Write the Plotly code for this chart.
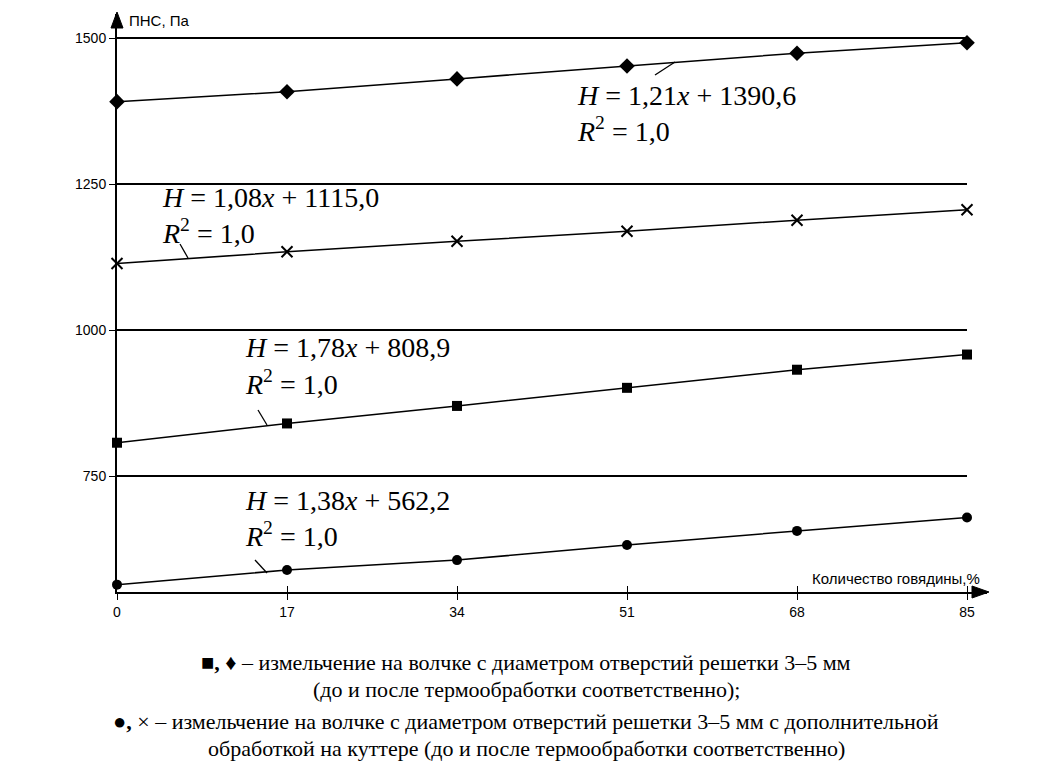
import plotly.graph_objects as go

# ---- data ----
beef_pct = [0, 17, 34, 51, 68, 85]
diamond_vals = [1391, 1408, 1430, 1452, 1474, 1492]   # ♦
cross_vals = [1114, 1134, 1152, 1169, 1188, 1206]     # ×
square_vals = [807, 840, 870, 901, 932, 958]          # ■
circle_vals = [564, 589, 606, 632, 656, 679]          # ●
y_ticks = [750, 1000, 1250, 1500]
x_ticks = [0, 17, 34, 51, 68, 85]

equations = [
    "<i>H</i> = 1,21<i>x</i> + 1390,6",
    "<i>H</i> = 1,08<i>x</i> + 1115,0",
    "<i>H</i> = 1,78<i>x</i> + 808,9",
    "<i>H</i> = 1,38<i>x</i> + 562,2",
]
r2_label = "<i>R</i><sup>2</sup> = 1,0"

caption = [
    "<b>■,</b> <b>♦</b> – измельчение на волчке с диаметром отверстий решетки 3–5 мм",
    "(до и после термообработки соответственно);",
    "<b>●,</b> × – измельчение на волчке с диаметром отверстий решетки 3–5 мм с дополнительной",
    "обработкой на куттере (до и после термообработки соответственно)",
]

SERIF = "Times New Roman, Liberation Serif, serif"
SANS = "Arial, Liberation Sans, sans-serif"

# ---- layout geometry ----
W, H = 1052, 771
ML, MR, MT, MB = 117, 65, 14, 179
XR = [0, 87]
YR = [551.4, 1541.1]
PW = W - ML - MR
PH = H - MT - MB


def px_to_data(px, py):
    x = XR[0] + (px - ML) / PW * (XR[1] - XR[0])
    y = YR[1] - (py - MT) / PH * (YR[1] - YR[0])
    return x, y


def px_to_paper(px, py):
    return (px - ML) / PW, (H - MB - py) / PH


fig = go.Figure()

series = [
    (diamond_vals, dict(symbol="diamond", size=12, color="black")),
    (cross_vals, dict(symbol="x-thin", size=11, color="black",
                      line=dict(width=2, color="black"))),
    (square_vals, dict(symbol="square", size=10, color="black")),
    (circle_vals, dict(symbol="circle", size=10, color="black")),
]
for vals, mk in series:
    fig.add_trace(go.Scatter(
        x=beef_pct, y=vals, mode="lines+markers",
        line=dict(color="black", width=1.5),
        marker=mk, cliponaxis=False, showlegend=False,
    ))

shapes = []
for yv in y_ticks:
    shapes.append(dict(type="line", xref="x", yref="y", x0=0, x1=x_ticks[-1],
                       y0=yv, y1=yv, line=dict(color="black", width=2)))

# axis arrows
tx, ty = px_to_paper(989, 592)
bx, _ = px_to_paper(972, 592)
hh = 6 / PH
shapes.append(dict(type="path", xref="paper", yref="paper",
                   path=f"M {tx} {ty} L {bx} {ty + hh} L {bx} {ty - hh} Z",
                   fillcolor="black", line=dict(color="black", width=1)))
ax_, ay_ = px_to_paper(117, 12)
_, by_ = px_to_paper(117, 28)
hw = 6 / PW
shapes.append(dict(type="path", xref="paper", yref="paper",
                   path=f"M {ax_} {ay_} L {ax_ - hw} {by_} L {ax_ + hw} {by_} Z",
                   fillcolor="black", line=dict(color="black", width=1)))

# leader lines
leaders_px = [((655, 75), (675, 62)), ((180, 244), (188, 258)),
              ((258, 410), (267, 425)), ((255, 560), (267, 573))]
for (p0, p1) in leaders_px:
    x0, y0 = px_to_data(*p0)
    x1, y1 = px_to_data(*p1)
    shapes.append(dict(type="line", xref="x", yref="y", x0=x0, y0=y0, x1=x1, y1=y1,
                       line=dict(color="black", width=1.3)))

annotations = []
eq_pos_px = [(575, 95), (160, 197), (243, 347), (243, 500)]
r2_pos_px = [(575, 129), (160, 231), (243, 382), (243, 534)]
for eq, (ex, ey), (rx, ry) in zip(equations, eq_pos_px, r2_pos_px):
    x, y = px_to_data(ex, ey)
    annotations.append(dict(x=x, y=y, xref="x", yref="y", text=eq, showarrow=False,
                            xanchor="left", yanchor="middle",
                            font=dict(family=SERIF, size=28, color="black")))
    x, y = px_to_data(rx, ry)
    annotations.append(dict(x=x, y=y, xref="x", yref="y", text=r2_label, showarrow=False,
                            xanchor="left", yanchor="middle",
                            font=dict(family=SERIF, size=28, color="black")))

# axis titles
px_, py_ = px_to_paper(127, 20)
annotations.append(dict(x=px_, y=py_, xref="paper", yref="paper", text="ПНС, Па",
                        showarrow=False, xanchor="left", yanchor="middle",
                        font=dict(family=SANS, size=15, color="black")))
px_, py_ = px_to_paper(982, 578)
annotations.append(dict(x=px_, y=py_, xref="paper", yref="paper",
                        text="Количество говядины,%",
                        showarrow=False, xanchor="right", yanchor="middle",
                        font=dict(family=SANS, size=15, color="black")))

# caption
cap_y = [662, 689, 721, 748]
for line, cy in zip(caption, cap_y):
    cx, cyp = px_to_paper(W / 2, cy)
    annotations.append(dict(x=cx, y=cyp, xref="paper", yref="paper",
                            text=line, showarrow=False, xanchor="center", yanchor="middle",
                            font=dict(family=SERIF, size=22, color="black")))

fig.update_layout(
    width=W, height=H,
    margin=dict(l=ML, r=MR, t=MT, b=MB),
    paper_bgcolor="white", plot_bgcolor="white",
    xaxis=dict(range=XR, tickvals=x_ticks, ticktext=[str(v) for v in x_ticks],
               showgrid=False, zeroline=False, showline=True,
               linecolor="black", linewidth=2, ticks="outside", ticklen=6,
               tickwidth=1, tickcolor="black",
               tickfont=dict(family=SANS, size=14, color="black")),
    xaxis2=dict(range=XR, tickvals=x_ticks, overlaying="x", anchor="y",
                side="bottom", showticklabels=False, showgrid=False, zeroline=False,
                ticks="inside", ticklen=6, tickwidth=1, tickcolor="black",
                showline=False),
    yaxis=dict(range=YR, tickvals=y_ticks, ticktext=[str(v) for v in y_ticks],
               showgrid=False, zeroline=False, showline=True,
               linecolor="black", linewidth=2, ticks="outside", ticklen=6,
               tickwidth=1, tickcolor="black",
               tickfont=dict(family=SANS, size=14, color="black")),
    shapes=shapes, annotations=annotations,
)
fig.add_trace(go.Scatter(x=[0], y=[YR[0]], xaxis="x2", mode="markers",
                         marker=dict(opacity=0), showlegend=False, hoverinfo="skip"))

fig.write_html("out.html")
